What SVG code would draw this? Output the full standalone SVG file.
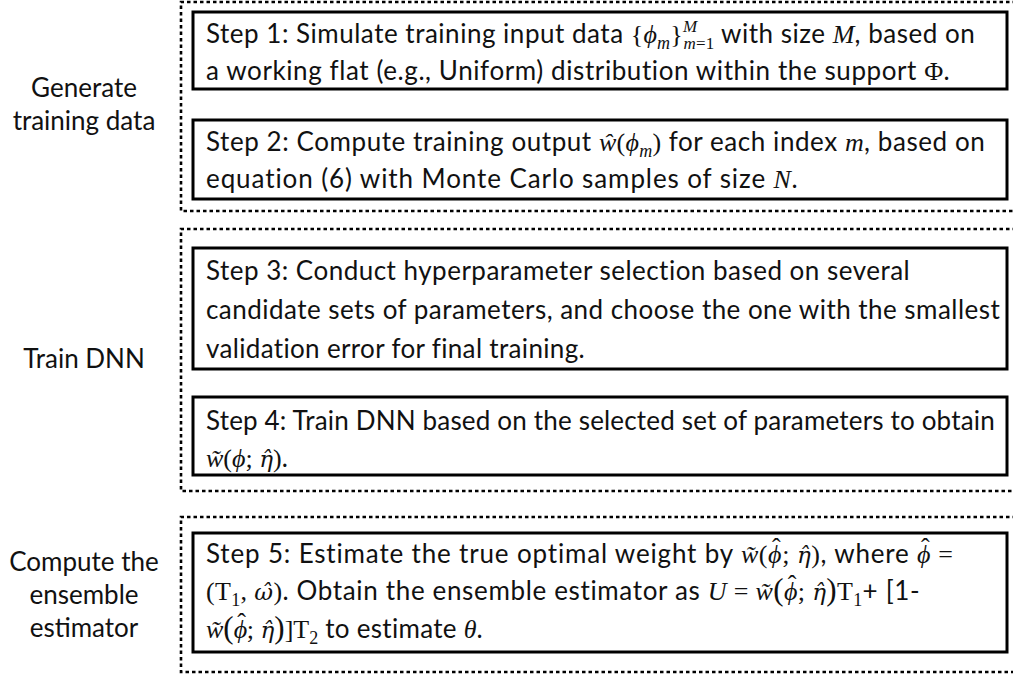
<svg xmlns="http://www.w3.org/2000/svg" width="1013" height="680" viewBox="0 0 1013 680">
<style>
.dot{fill:none;stroke:#000;stroke-width:2.6;stroke-dasharray:3.5 3}
.box{fill:#fff;stroke:#000;stroke-width:3}
.t{font-family:Lato,"Open Sans",sans-serif;font-size:26px;letter-spacing:0.3px;fill:#111}
.lbl{font-family:Lato,"Open Sans",sans-serif;font-size:26px;fill:#111;text-anchor:middle}
.mi{font-family:"Liberation Serif",serif;font-style:italic;letter-spacing:0}
.mr{font-family:"Liberation Serif",serif;font-style:normal;letter-spacing:0}
.mh{font-family:"DejaVu Serif",serif;font-style:italic;font-size:23px;letter-spacing:0}
</style>
<rect width="1013" height="680" fill="#fff"/>
<g id="connectors"></g>
<g id="group-generate">
<path class="dot" d="M1016,2 H181 V211 H1016"/>
<text class="lbl" x="84" y="97">Generate</text>
<text class="lbl" x="84" y="130">training data</text>
</g>
<g id="step1">
<rect class="box" x="193" y="12" width="814" height="77"/>
<text class="t" x="206" y="43" textLength="769">Step 1: Simulate training input data <tspan class="mr">{</tspan><tspan class="mi">ϕ</tspan><tspan class="mi" font-size="18" dy="6">m</tspan><tspan class="mr" dy="-6">}</tspan><tspan class="mi" font-size="17" dy="-11">M</tspan><tspan font-size="17" dx="-14" dy="17"><tspan class="mi">m</tspan><tspan class="mr">=1</tspan></tspan><tspan dy="-6"> with size </tspan><tspan class="mi">M</tspan>, based on</text>
<text class="t" x="206" y="80" textLength="744">a working flat (e.g., Uniform) distribution within the support <tspan class="mr">Φ</tspan>.</text>
</g>
<g id="step2">
<rect class="box" x="193" y="120" width="814" height="79"/>
<text class="t" x="206" y="151" textLength="779">Step 2: Compute training output <tspan class="mi">ŵ</tspan><tspan class="mr">(</tspan><tspan class="mi">ϕ</tspan><tspan class="mi" font-size="18" dy="6">m</tspan><tspan class="mr" dy="-6">)</tspan> for each index <tspan class="mi">m</tspan>, based on</text>
<text class="t" x="206" y="188" textLength="592">equation (6) with Monte Carlo samples of size <tspan class="mi">N</tspan>.</text>
</g>
<g id="group-train">
<path class="dot" d="M1016,229 H181 V491 H1016"/>
<text class="lbl" x="84" y="368">Train DNN</text>
</g>
<g id="step3">
<rect class="box" x="193" y="248" width="814" height="121"/>
<text class="t" x="206" y="280" textLength="704">Step 3: Conduct hyperparameter selection based on several</text>
<text class="t" x="206" y="319" textLength="794">candidate sets of parameters, and choose the one with the smallest</text>
<text class="t" x="206" y="358" textLength="379">validation error for final training.</text>
</g>
<g id="step4">
<rect class="box" x="193" y="397" width="814" height="78"/>
<text class="t" x="206" y="430" textLength="789">Step 4: Train DNN based on the selected set of parameters to obtain</text>
<text class="t" x="206" y="467"><tspan class="mi">w̃</tspan><tspan class="mr">(</tspan><tspan class="mi">ϕ</tspan><tspan class="mr">; </tspan><tspan class="mh">η̂</tspan><tspan class="mr">)</tspan>.</text>
</g>
<g id="group-compute">
<path class="dot" d="M1016,517 H181 V672 H1016"/>
<text class="lbl" x="84" y="571">Compute the</text>
<text class="lbl" x="84" y="604">ensemble</text>
<text class="lbl" x="84" y="637">estimator</text>
</g>
<g id="step5">
<rect class="box" x="193" y="533" width="814" height="119"/>
<text class="t" x="206" y="563" textLength="747">Step 5: Estimate the true optimal weight by <tspan class="mi">w̃</tspan><tspan class="mr">(</tspan><tspan class="mi">ϕ</tspan><tspan class="mr" dx="-10" dy="-7">ˆ</tspan><tspan class="mr" dx="1" dy="7">; </tspan><tspan class="mh">η̂</tspan><tspan class="mr">)</tspan>, where <tspan class="mi">ϕ</tspan><tspan class="mr" dx="-10" dy="-7">ˆ</tspan><tspan class="mr" dx="1" dy="7"> =</tspan></text>
<text class="t" x="206" y="600" textLength="714"><tspan class="mr">(T</tspan><tspan class="mr" font-size="18" dy="6">1</tspan><tspan class="mr" dy="-6">, </tspan><tspan class="mh">ω̂</tspan><tspan class="mr">)</tspan>. Obtain the ensemble estimator as <tspan class="mi">U</tspan><tspan class="mr"> = </tspan><tspan class="mi">w̃</tspan><tspan class="mr" font-size="31">(</tspan><tspan class="mi">ϕ</tspan><tspan class="mr" dx="-10" dy="-7">ˆ</tspan><tspan class="mr" dx="1" dy="7">; </tspan><tspan class="mh">η̂</tspan><tspan class="mr" font-size="31">)</tspan><tspan class="mr">T</tspan><tspan class="mr" font-size="18" dy="6">1</tspan><tspan dy="-6">+ [1-</tspan></text>
<text class="t" x="206" y="638"><tspan class="mi">w̃</tspan><tspan class="mr" font-size="31">(</tspan><tspan class="mi">ϕ</tspan><tspan class="mr" dx="-10" dy="-7">ˆ</tspan><tspan class="mr" dx="1" dy="7">; </tspan><tspan class="mh">η̂</tspan><tspan class="mr" font-size="31">)</tspan><tspan class="mr">]T</tspan><tspan class="mr" font-size="18" dy="6">2</tspan><tspan dy="-6"> to estimate </tspan><tspan class="mi">θ</tspan>.</text>
</g>
</svg>
